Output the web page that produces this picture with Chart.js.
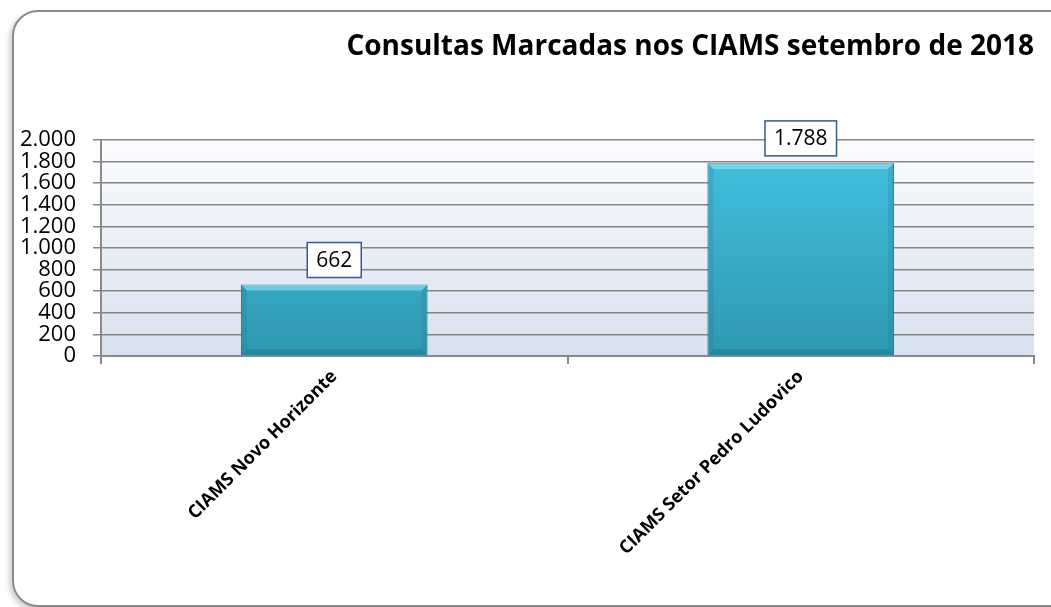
<!DOCTYPE html>
<html lang="pt-BR">
<head>
    <meta charset="UTF-8">
    <title>Consultas Marcadas nos CIAMS</title>
    <script src="https://cdn.jsdelivr.net/npm/chart.js"></script>
    <style>
        body { margin: 0; background: #ffffff; overflow: hidden; width: 1051px; height: 607px; position: relative; }
        .moldura { position: absolute; left: 12px; top: 10px; width: 1060px; height: 593px; border: 2px solid #8a8a8a; border-radius: 26px; box-shadow: -3px 3px 5px rgba(0, 0, 0, 0.18); }
        #grafico { position: absolute; left: 0; top: 0; }
    </style>
</head>
<body>
    <div class="moldura"></div>
    <canvas id="grafico" width="1051" height="607"></canvas>

    <script>
        // dados do gráfico
        const categorias = ['CIAMS Novo Horizonte', 'CIAMS Setor Pedro Ludovico'];
        const consultas = [662, 1788];
        const titulo = 'Consultas Marcadas nos CIAMS setembro de 2018';

        // formata número com ponto de milhar
        function formata(v) {
            return String(v).replace(/\B(?=(\d{3})+(?!\d))/g, '.');
        }

        // fundo degradê da área do gráfico
        const fundoPlot = {
            id: 'fundoPlot',
            beforeDraw(chart) {
                const { ctx, chartArea: a } = chart;
                const g = ctx.createLinearGradient(0, a.top, 0, a.bottom);
                g.addColorStop(0, '#fbfcfe');
                g.addColorStop(1, '#d8e1ef');
                ctx.save();
                ctx.fillStyle = g;
                ctx.fillRect(a.left, a.top, a.right - a.left, a.bottom - a.top);
                ctx.restore();
            }
        };

        // chanfro das barras e caixas com os valores
        const rotulos = {
            id: 'rotulos',
            afterDatasetsDraw(chart) {
                const ctx = chart.ctx;
                const meta = chart.getDatasetMeta(0);
                ctx.save();
                meta.data.forEach((bar, i) => {
                    const esq = bar.x - bar.width / 2, dir = bar.x + bar.width / 2;
                    const topo = bar.y, base = bar.base;
                    const b = 6;
                    // topo claro
                    ctx.fillStyle = 'rgba(150, 238, 252, 0.55)';
                    ctx.beginPath();
                    ctx.moveTo(esq, topo); ctx.lineTo(dir, topo);
                    ctx.lineTo(dir - b, topo + b); ctx.lineTo(esq + b, topo + b);
                    ctx.closePath(); ctx.fill();
                    // lados
                    ctx.fillStyle = 'rgba(30, 110, 135, 0.2)';
                    ctx.beginPath();
                    ctx.moveTo(esq, topo); ctx.lineTo(esq + b, topo + b);
                    ctx.lineTo(esq + b, base - b); ctx.lineTo(esq, base);
                    ctx.closePath(); ctx.fill();
                    ctx.beginPath();
                    ctx.moveTo(dir, topo); ctx.lineTo(dir - b, topo + b);
                    ctx.lineTo(dir - b, base - b); ctx.lineTo(dir, base);
                    ctx.closePath(); ctx.fill();
                    // base escura
                    ctx.fillStyle = 'rgba(20, 80, 100, 0.25)';
                    ctx.beginPath();
                    ctx.moveTo(esq, base); ctx.lineTo(dir, base);
                    ctx.lineTo(dir - b, base - b); ctx.lineTo(esq + b, base - b);
                    ctx.closePath(); ctx.fill();

                    // caixa do valor
                    const txt = formata(consultas[i]);
                    ctx.font = '21px "Open Sans"';
                    const w = ctx.measureText(txt).width + 18;
                    const h = 35;
                    const x0 = bar.x - w / 2, y0 = topo - 7 - h;
                    ctx.fillStyle = '#ffffff';
                    ctx.fillRect(x0, y0, w, h);
                    ctx.strokeStyle = '#365a8c';
                    ctx.lineWidth = 1.5;
                    ctx.strokeRect(x0, y0, w, h);
                    ctx.fillStyle = '#000000';
                    ctx.textAlign = 'center';
                    ctx.textBaseline = 'middle';
                    ctx.fillText(txt, bar.x, y0 + h / 2 + 1);
                });
                ctx.restore();
            }
        };

        const ctx = document.getElementById('grafico').getContext('2d');
        new Chart(ctx, {
            type: 'bar',
            data: {
                labels: categorias,
                datasets: [{
                    data: consultas,
                    backgroundColor(c) {
                        const a = c.chart.chartArea;
                        if (!a) return '#36aecb';
                        const g = c.chart.ctx.createLinearGradient(0, a.top, 0, a.bottom);
                        g.addColorStop(0, '#43c3e2');
                        g.addColorStop(1, '#2f98b2');
                        return g;
                    },
                    borderColor: '#2a7f96',
                    borderWidth: 1,
                    categoryPercentage: 1,
                    barPercentage: 0.4
                }]
            },
            options: {
                responsive: false,
                animation: false,
                layout: { padding: { left: 12, right: 17, top: 0, bottom: 0 } },
                plugins: {
                    legend: { display: false },
                    tooltip: { enabled: false },
                    title: {
                        display: true,
                        text: titulo,
                        align: 'end',
                        color: '#000000',
                        font: { family: 'Open Sans', size: 28, weight: 'bold', lineHeight: 1.2 },
                        padding: { top: 30, bottom: 76.4 }
                    }
                },
                scales: {
                    x: {
                        afterFit(s) { s.height = 607 - 356; },
                        grid: { display: true, drawOnChartArea: false, tickLength: 8, color: '#8a8a8a', lineWidth: 2 },
                        border: { color: '#8a8a8a', width: 2 },
                        ticks: {
                            minRotation: 45,
                            maxRotation: 45,
                            padding: 2,
                            color: '#000000',
                            font: { family: 'Open Sans', size: 18, weight: 'bold' }
                        }
                    },
                    y: {
                        min: 0,
                        max: 2000,
                        afterFit(s) { s.width = 101 - 12; },
                        grid: { color: '#858585', lineWidth: 1.5, tickLength: 8 },
                        border: { color: '#8a8a8a', width: 2 },
                        ticks: {
                            stepSize: 200,
                            autoSkip: false,
                            padding: 17,
                            color: '#000000',
                            font: { family: 'Open Sans', size: 22 },
                            callback: v => formata(v)
                        }
                    }
                }
            },
            plugins: [fundoPlot, rotulos]
        });
    </script>
</body>
</html>
